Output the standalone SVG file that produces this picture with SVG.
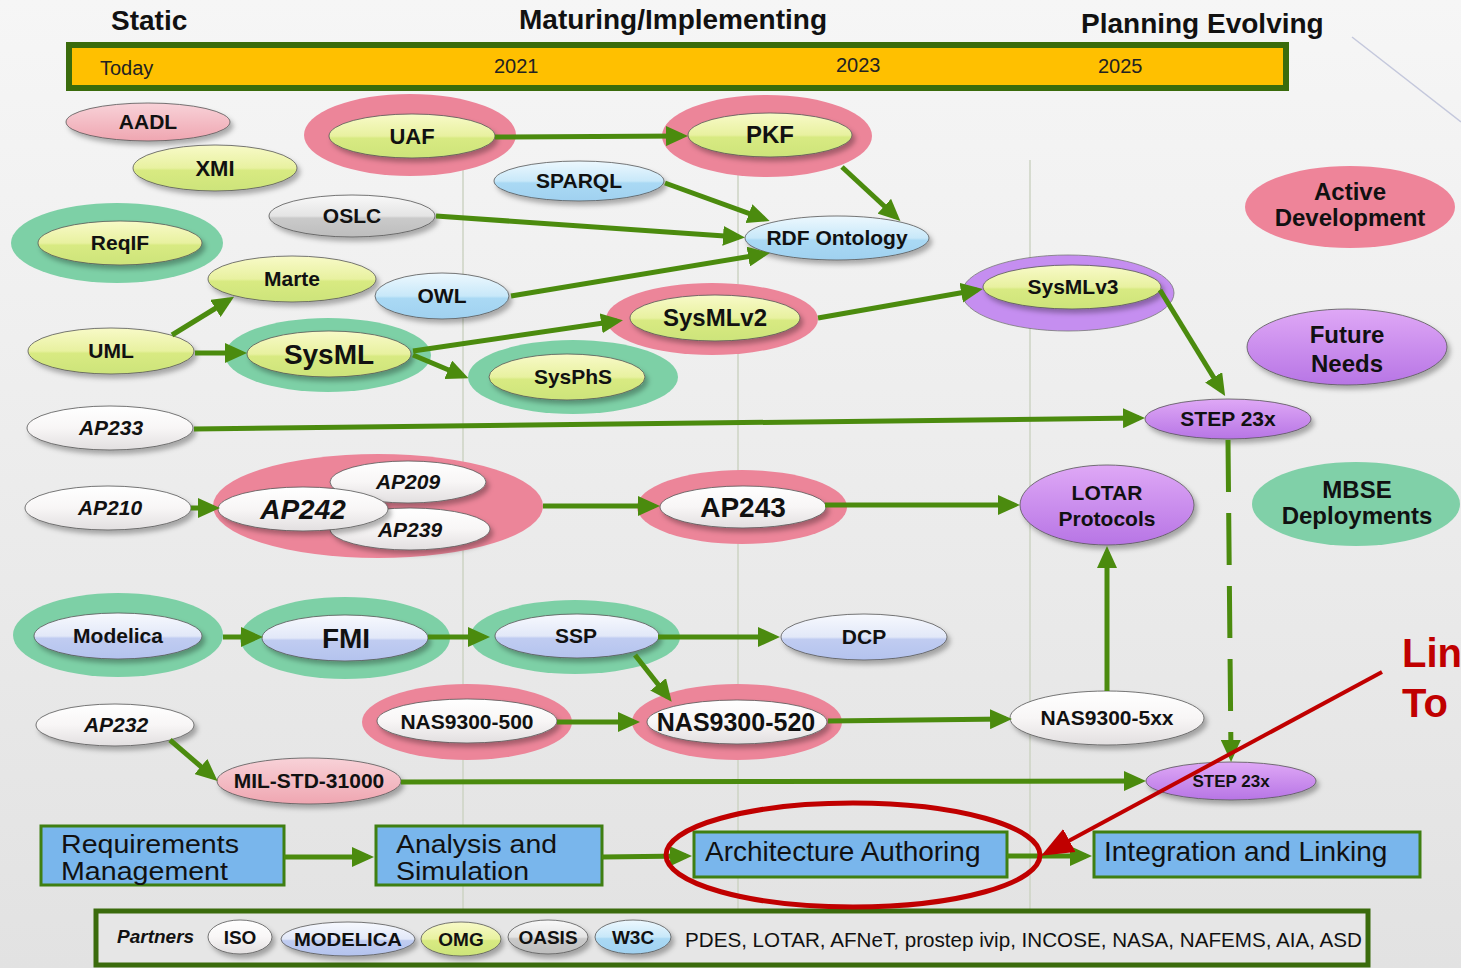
<svg xmlns="http://www.w3.org/2000/svg" width="1461" height="968" viewBox="0 0 1461 968">
  <defs>
    <linearGradient id="bg" x1="0" y1="0" x2="0" y2="1">
      <stop offset="0" stop-color="#f6f6f6"/>
      <stop offset="1" stop-color="#e2e2e2"/>
    </linearGradient>
    <linearGradient id="gYel" x1="0" y1="0" x2="0" y2="1">
      <stop offset="0" stop-color="#f8fac8"/>
      <stop offset="0.5" stop-color="#e8f1a0"/>
      <stop offset="0.55" stop-color="#d8ea82"/>
      <stop offset="1" stop-color="#cde47a"/>
    </linearGradient>
    <linearGradient id="gBlue" x1="0" y1="0" x2="0" y2="1">
      <stop offset="0" stop-color="#edf8fe"/>
      <stop offset="0.5" stop-color="#c8e8f9"/>
      <stop offset="0.55" stop-color="#aad9f4"/>
      <stop offset="1" stop-color="#a0d1f0"/>
    </linearGradient>
    <linearGradient id="gLav" x1="0" y1="0" x2="0" y2="1">
      <stop offset="0" stop-color="#f7f9fe"/>
      <stop offset="0.5" stop-color="#e2e8f8"/>
      <stop offset="0.55" stop-color="#c0ccf1"/>
      <stop offset="1" stop-color="#b4c3ee"/>
    </linearGradient>
    <linearGradient id="gGray" x1="0" y1="0" x2="0" y2="1">
      <stop offset="0" stop-color="#f9f9f9"/>
      <stop offset="0.5" stop-color="#e4e4e4"/>
      <stop offset="0.55" stop-color="#cacaca"/>
      <stop offset="1" stop-color="#bdbdbd"/>
    </linearGradient>
    <linearGradient id="gWhite" x1="0" y1="0" x2="0" y2="1">
      <stop offset="0" stop-color="#ffffff"/>
      <stop offset="0.5" stop-color="#f8f6f6"/>
      <stop offset="1" stop-color="#e2dfe0"/>
    </linearGradient>
    <linearGradient id="gPink" x1="0" y1="0" x2="0" y2="1">
      <stop offset="0" stop-color="#f8d2d8"/>
      <stop offset="1" stop-color="#efa6b1"/>
    </linearGradient>
    <linearGradient id="gPurple" x1="0" y1="0" x2="0" y2="1">
      <stop offset="0" stop-color="#dfa8f6"/>
      <stop offset="1" stop-color="#b775e5"/>
    </linearGradient>
    <filter id="shadow" x="-20%" y="-30%" width="140%" height="170%">
      <feDropShadow dx="3" dy="4" stdDeviation="2.5" flood-color="#000" flood-opacity="0.3"/>
    </filter>
    <marker id="arrow" markerUnits="userSpaceOnUse" markerWidth="22" markerHeight="20" viewBox="0 0 22 20" refX="16" refY="10" orient="auto">
      <path d="M0,0 L22,10 L0,20 z" fill="#4b8b0e"/>
    </marker>
    <marker id="arrowRed" markerUnits="userSpaceOnUse" markerWidth="32" markerHeight="26" viewBox="0 0 32 26" refX="22" refY="13" orient="auto">
      <path d="M0,0 L32,13 L0,26 z" fill="#c00000"/>
    </marker>
    <style>
      .lbl { font-family: "Liberation Sans", Arial, sans-serif; font-weight: bold; fill: #111; text-anchor: middle; }
      .it { font-style: italic; }
      .hdr { font-family: "Liberation Sans", Arial, sans-serif; font-weight: bold; font-size: 28px; fill: #111; }
      .yr { font-family: "Liberation Sans", Arial, sans-serif; font-size: 20px; fill: #222; }
      .box { fill: #79b6ec; stroke: #3f7f12; stroke-width: 3; }
      .boxt { font-family: "Liberation Sans", Arial, sans-serif; font-size: 28px; fill: #111; }
      .boxt2 { font-family: "Liberation Sans", Arial, sans-serif; font-size: 25px; fill: #111; }
      .node { stroke: #555; stroke-width: 0.8; filter: url(#shadow); }
      .haloP { fill: #ec8599; }
      .haloG { fill: #7dd0a6; }
      .haloV { fill: #c58ef0; }
      .grid { stroke: #cdd3c3; stroke-width: 1.5; }
      .conn { stroke: #4b8b0e; stroke-width: 5; fill: none; marker-end: url(#arrow); }
    </style>
  </defs>

  <!-- background -->
  <rect x="0" y="0" width="1461" height="968" fill="url(#bg)"/>
  <line x1="1352" y1="37" x2="1461" y2="122" stroke="#c4c8dc" stroke-width="1.5"/>

  <!-- year grid lines -->
  <g id="grid">
    <line class="grid" x1="463" y1="165" x2="463" y2="910"/>
    <line class="grid" x1="738" y1="160" x2="738" y2="915"/>
    <line class="grid" x1="1030" y1="160" x2="1030" y2="910"/>
  </g>

  <!-- phase headers and timeline -->
  <g id="timeline">
    <text class="hdr" x="111" y="30">Static</text>
    <text class="hdr" x="519" y="29">Maturing/Implementing</text>
    <text class="hdr" x="1081" y="33">Planning Evolving</text>
    <rect x="69" y="45" width="1217" height="43" fill="#ffc000" stroke="#3a6b0c" stroke-width="6"/>
    <text class="yr" x="100" y="75">Today</text>
    <text class="yr" x="494" y="73">2021</text>
    <text class="yr" x="836" y="72">2023</text>
    <text class="yr" x="1098" y="73">2025</text>
  </g>

  <!-- standards -->
  <g id="aadl">
    <ellipse class="node" cx="148" cy="122" rx="82" ry="19" fill="url(#gPink)"/>
    <text class="lbl" x="148" y="129" font-size="21">AADL</text>
  </g>
  <g id="xmi">
    <ellipse class="node" cx="215" cy="168" rx="82" ry="23" fill="url(#gYel)"/>
    <text class="lbl" x="215" y="176" font-size="22">XMI</text>
  </g>
  <g id="uaf">
    <ellipse class="haloP" cx="410" cy="135" rx="106" ry="41"/>
    <ellipse class="node" cx="412" cy="136" rx="83" ry="22" fill="url(#gYel)"/>
    <text class="lbl" x="412" y="144" font-size="22">UAF</text>
  </g>
  <g id="pkf">
    <ellipse class="haloP" cx="767" cy="136" rx="105" ry="41"/>
    <ellipse class="node" cx="770" cy="135" rx="82" ry="22" fill="url(#gYel)"/>
    <text class="lbl" x="770" y="143" font-size="24">PKF</text>
  </g>
  <g id="sparql">
    <ellipse class="node" cx="579" cy="181" rx="85" ry="20" fill="url(#gBlue)"/>
    <text class="lbl" x="579" y="188" font-size="21">SPARQL</text>
  </g>
  <g id="oslc">
    <ellipse class="node" cx="352" cy="216" rx="83" ry="21" fill="url(#gGray)"/>
    <text class="lbl" x="352" y="223" font-size="21">OSLC</text>
  </g>
  <g id="rdf-ontology">
    <ellipse class="node" cx="837" cy="238" rx="92" ry="22" fill="url(#gBlue)"/>
    <text class="lbl" x="837" y="245" font-size="21">RDF Ontology</text>
  </g>
  <g id="reqif">
    <ellipse class="haloG" cx="117" cy="243" rx="106" ry="40"/>
    <ellipse class="node" cx="120" cy="243" rx="82" ry="22" fill="url(#gYel)"/>
    <text class="lbl" x="120" y="250" font-size="21">ReqIF</text>
  </g>
  <g id="marte">
    <ellipse class="node" cx="292" cy="279" rx="84" ry="23" fill="url(#gYel)"/>
    <text class="lbl" x="292" y="286" font-size="21">Marte</text>
  </g>
  <g id="owl">
    <ellipse class="node" cx="442" cy="296" rx="67" ry="23" fill="url(#gBlue)"/>
    <text class="lbl" x="442" y="303" font-size="21">OWL</text>
  </g>
  <g id="uml">
    <ellipse class="node" cx="111" cy="351" rx="83" ry="23" fill="url(#gYel)"/>
    <text class="lbl" x="111" y="358" font-size="21">UML</text>
  </g>
  <g id="sysml">
    <ellipse class="haloG" cx="328" cy="355" rx="103" ry="37"/>
    <ellipse class="node" cx="329" cy="354" rx="82" ry="23" fill="url(#gYel)"/>
    <text class="lbl" x="329" y="364" font-size="28">SysML</text>
  </g>
  <g id="sysphs">
    <ellipse class="haloG" cx="573" cy="377" rx="105" ry="37"/>
    <ellipse class="node" cx="567" cy="377" rx="78" ry="23" fill="url(#gYel)"/>
    <text class="lbl" x="573" y="384" font-size="21">SysPhS</text>
  </g>
  <g id="sysmlv2">
    <ellipse class="haloP" cx="712" cy="319" rx="106" ry="36"/>
    <ellipse class="node" cx="715" cy="318" rx="85" ry="23" fill="url(#gYel)"/>
    <text class="lbl" x="715" y="326" font-size="24">SysMLv2</text>
  </g>
  <g id="sysmlv3">
    <ellipse class="haloV" cx="1068" cy="293" rx="106" ry="38" stroke="#777" stroke-width="0.8"/>
    <ellipse class="node" cx="1072" cy="287" rx="89" ry="22" fill="url(#gYel)"/>
    <text class="lbl" x="1073" y="294" font-size="21">SysMLv3</text>
  </g>
  <g id="ap233">
    <ellipse class="node" cx="110" cy="428" rx="83" ry="22" fill="url(#gWhite)"/>
    <text class="lbl it" x="111" y="435" font-size="21">AP233</text>
  </g>
  <g id="step23x-upper">
    <ellipse class="node" cx="1228" cy="419" rx="83" ry="20" fill="url(#gPurple)"/>
    <text class="lbl" x="1228" y="426" font-size="21">STEP 23x</text>
  </g>
  <g id="ap210">
    <ellipse class="node" cx="108" cy="508" rx="83" ry="22" fill="url(#gWhite)"/>
    <text class="lbl it" x="110" y="515" font-size="21">AP210</text>
  </g>
  <g id="ap242">
    <ellipse class="haloP" cx="378" cy="506" rx="165" ry="52"/>
    <ellipse class="node" cx="408" cy="482" rx="78" ry="21" fill="url(#gWhite)"/>
    <text class="lbl it" x="408" y="489" font-size="21">AP209</text>
    <ellipse class="node" cx="410" cy="529" rx="80" ry="21" fill="url(#gWhite)"/>
    <text class="lbl it" x="410" y="537" font-size="21">AP239</text>
    <ellipse class="node" cx="303" cy="509" rx="85" ry="22" fill="url(#gWhite)"/>
    <text class="lbl it" x="303" y="519" font-size="28">AP242</text>
  </g>
  <g id="ap243">
    <ellipse class="haloP" cx="742" cy="507" rx="105" ry="37"/>
    <ellipse class="node" cx="743" cy="507" rx="83" ry="21" fill="url(#gWhite)"/>
    <text class="lbl" x="743" y="517" font-size="28">AP243</text>
  </g>
  <g id="lotar-protocols">
    <ellipse class="node" cx="1107" cy="505" rx="87" ry="40" fill="url(#gPurple)"/>
    <text class="lbl" x="1107" y="500" font-size="21">LOTAR</text>
    <text class="lbl" x="1107" y="526" font-size="21">Protocols</text>
  </g>
  <g id="modelica">
    <ellipse class="haloG" cx="118" cy="635" rx="105" ry="42"/>
    <ellipse class="node" cx="118" cy="636" rx="84" ry="23" fill="url(#gLav)"/>
    <text class="lbl" x="118" y="643" font-size="21">Modelica</text>
  </g>
  <g id="fmi">
    <ellipse class="haloG" cx="345" cy="638" rx="105" ry="41"/>
    <ellipse class="node" cx="345" cy="638" rx="83" ry="23" fill="url(#gLav)"/>
    <text class="lbl" x="346" y="648" font-size="28">FMI</text>
  </g>
  <g id="ssp">
    <ellipse class="haloG" cx="575" cy="637" rx="105" ry="37"/>
    <ellipse class="node" cx="577" cy="636" rx="82" ry="22" fill="url(#gLav)"/>
    <text class="lbl" x="576" y="643" font-size="21">SSP</text>
  </g>
  <g id="dcp">
    <ellipse class="node" cx="864" cy="637" rx="83" ry="23" fill="url(#gLav)"/>
    <text class="lbl" x="864" y="644" font-size="21">DCP</text>
  </g>
  <g id="ap232">
    <ellipse class="node" cx="115" cy="725" rx="79" ry="21" fill="url(#gWhite)"/>
    <text class="lbl it" x="116" y="732" font-size="21">AP232</text>
  </g>
  <g id="nas9300-500">
    <ellipse class="haloP" cx="467" cy="722" rx="105" ry="38"/>
    <ellipse class="node" cx="467" cy="721" rx="90" ry="22" fill="url(#gWhite)"/>
    <text class="lbl" x="467" y="729" font-size="21">NAS9300-500</text>
  </g>
  <g id="nas9300-520">
    <ellipse class="haloP" cx="737" cy="722" rx="105" ry="38"/>
    <ellipse class="node" cx="737" cy="722" rx="90" ry="22" fill="url(#gWhite)"/>
    <text class="lbl" x="736" y="731" font-size="25">NAS9300-520</text>
  </g>
  <g id="nas9300-5xx">
    <ellipse class="node" cx="1107" cy="718" rx="97" ry="27" fill="url(#gWhite)"/>
    <text class="lbl" x="1107" y="725" font-size="21">NAS9300-5xx</text>
  </g>
  <g id="mil-std-31000">
    <ellipse class="node" cx="309" cy="781" rx="92" ry="23" fill="url(#gPink)"/>
    <text class="lbl" x="309" y="788" font-size="21">MIL-STD-31000</text>
  </g>
  <g id="step23x-lower">
    <ellipse class="node" cx="1231" cy="781" rx="85" ry="19" fill="url(#gPurple)"/>
    <text class="lbl" x="1231" y="787" font-size="17">STEP 23x</text>
  </g>

  <!-- legend -->
  <g id="legend-active">
    <ellipse cx="1350" cy="207" rx="105" ry="41" fill="#ee8499"/>
    <text class="lbl" x="1350" y="200" font-size="24">Active</text>
    <text class="lbl" x="1350" y="226" font-size="24">Development</text>
  </g>
  <g id="legend-future">
    <ellipse cx="1347" cy="347" rx="100" ry="38" fill="url(#gPurple)" stroke="#555" stroke-width="0.8" filter="url(#shadow)"/>
    <text class="lbl" x="1347" y="343" font-size="24">Future</text>
    <text class="lbl" x="1347" y="372" font-size="24">Needs</text>
  </g>
  <g id="legend-mbse">
    <ellipse cx="1356" cy="504" rx="104" ry="42" fill="#80d0a8"/>
    <text class="lbl" x="1357" y="498" font-size="24">MBSE</text>
    <text class="lbl" x="1357" y="524" font-size="24">Deployments</text>
  </g>

  <!-- process steps -->
  <g id="requirements-management">
    <rect class="box" x="41" y="826" width="243" height="59"/>
    <text class="boxt2" x="61" y="853" textLength="178" lengthAdjust="spacingAndGlyphs">Requirements</text>
    <text class="boxt2" x="61" y="880" textLength="167" lengthAdjust="spacingAndGlyphs">Management</text>
  </g>
  <g id="analysis-simulation">
    <rect class="box" x="376" y="826" width="226" height="59"/>
    <text class="boxt2" x="396" y="853" textLength="161" lengthAdjust="spacingAndGlyphs">Analysis and</text>
    <text class="boxt2" x="396" y="880" textLength="133" lengthAdjust="spacingAndGlyphs">Simulation</text>
  </g>
  <g id="architecture-authoring">
    <rect class="box" x="694" y="832" width="313" height="45"/>
    <text class="boxt" x="705" y="861">Architecture Authoring</text>
  </g>
  <g id="integration-linking">
    <rect class="box" x="1094" y="832" width="326" height="45"/>
    <text class="boxt" x="1104" y="861">Integration and Linking</text>
  </g>

  <!-- connectors -->
  <g id="connectors">
    <path class="conn" d="M495,137 L682,136"/>
    <path class="conn" d="M842,167 L896,217"/>
    <path class="conn" d="M665,183 L764,219"/>
    <path class="conn" d="M436,216 L739,237"/>
    <path class="conn" d="M511,296 L764,254"/>
    <path class="conn" d="M172,335 L229,300"/>
    <path class="conn" d="M195,353 L241,353"/>
    <path class="conn" d="M413,351 L617,321"/>
    <path class="conn" d="M413,355 L463,376"/>
    <path class="conn" d="M818,318 L977,290"/>
    <path class="conn" d="M1160,290 L1222,391"/>
    <path class="conn" d="M194,429 L1139,418"/>
    <path class="conn" d="M191,508 L214,508"/>
    <path class="conn" d="M543,506 L654,506"/>
    <path class="conn" d="M825,505 L1014,505"/>
    <path class="conn" d="M1107,691 L1107,552"/>
    <path class="conn" d="M1228,440 L1231,756" stroke-dasharray="52 21"/>
    <path class="conn" d="M223,637 L257,637"/>
    <path class="conn" d="M428,637 L484,637"/>
    <path class="conn" d="M658,637 L774,637"/>
    <path class="conn" d="M635,655 L668,697"/>
    <path class="conn" d="M557,722 L634,722"/>
    <path class="conn" d="M828,721 L1006,719"/>
    <path class="conn" d="M170,740 L213,777"/>
    <path class="conn" d="M401,782 L1140,781"/>
    <path class="conn" d="M284,857 L368,857"/>
    <path class="conn" d="M602,857 L686,856"/>
    <path class="conn" d="M1007,856 L1086,856"/>
  </g>

  <!-- partners strip -->
  <g id="partners">
    <rect x="96" y="911" width="1272" height="54" fill="#e6e6e6" stroke="#3a6b0c" stroke-width="5"/>
    <text x="117" y="943" font-family="Liberation Sans, Arial, sans-serif" font-weight="bold" font-style="italic" font-size="19" fill="#111">Partners</text>
    <ellipse class="node" cx="240" cy="937" rx="32" ry="17" fill="url(#gWhite)"/>
    <text class="lbl" x="240" y="944" font-size="19">ISO</text>
    <ellipse class="node" cx="348" cy="939" rx="67" ry="17" fill="url(#gLav)"/>
    <text class="lbl" x="348" y="946" font-size="19" textLength="108" lengthAdjust="spacingAndGlyphs">MODELICA</text>
    <ellipse class="node" cx="461" cy="939" rx="40" ry="17" fill="url(#gYel)"/>
    <text class="lbl" x="461" y="946" font-size="19">OMG</text>
    <ellipse class="node" cx="548" cy="937" rx="40" ry="17" fill="url(#gGray)"/>
    <text class="lbl" x="548" y="944" font-size="19">OASIS</text>
    <ellipse class="node" cx="633" cy="937" rx="38" ry="17" fill="url(#gBlue)"/>
    <text class="lbl" x="633" y="944" font-size="19">W3C</text>
    <text x="685" y="947" font-family="Liberation Sans, Arial, sans-serif" font-size="20" fill="#111" textLength="677" lengthAdjust="spacingAndGlyphs">PDES, LOTAR, AFNeT, prostep ivip, INCOSE, NASA, NAFEMS, AIA, ASD</text>
  </g>

  <!-- callout -->
  <g id="callout">
    <ellipse cx="853" cy="855" rx="187" ry="52" fill="none" stroke="#c00000" stroke-width="5"/>
    <path d="M1382,672 L1050,851" stroke="#c00000" stroke-width="4" fill="none" marker-end="url(#arrowRed)"/>
    <text x="1402" y="667" font-family="Liberation Sans, Arial, sans-serif" font-weight="bold" font-size="40" fill="#c00000">Lin</text>
    <text x="1402" y="717" font-family="Liberation Sans, Arial, sans-serif" font-weight="bold" font-size="40" fill="#c00000">To</text>
  </g>
</svg>
